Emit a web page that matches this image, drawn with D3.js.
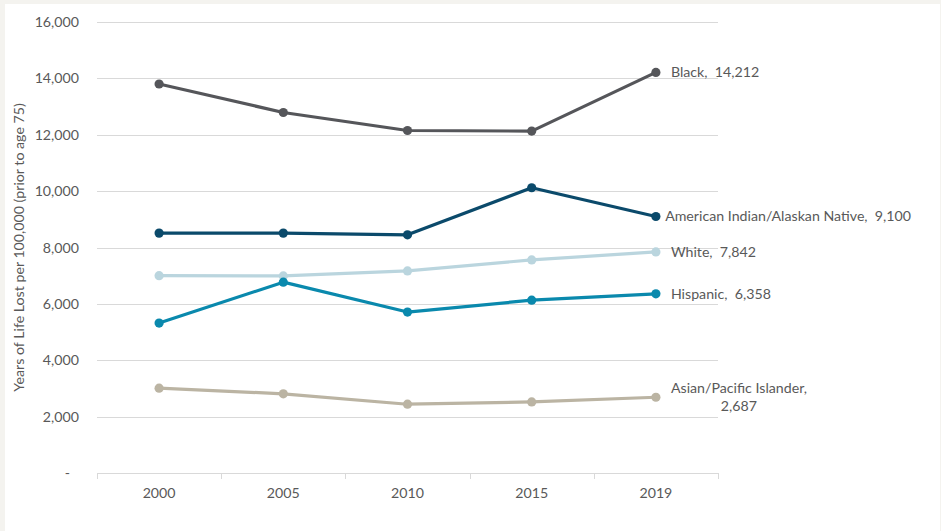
<!DOCTYPE html>
<html>
<head>
<meta charset="utf-8">
<script src="https://cdn.jsdelivr.net/npm/d3@7/dist/d3.min.js"></script>
<style>
  html, body { margin: 0; padding: 0; background: #ffffff; }
  svg { display: block; }
  text { font-family: Lato, "Open Sans", sans-serif; fill: #595959; }
</style>
</head>
<body>
<svg id="chart" width="941" height="531"></svg>
<script>
// Years of life lost before age 75, per 100,000, by race/ethnicity
const years = ["2000", "2005", "2010", "2015", "2019"];
const seriesNames = ["Black", "American Indian/Alaskan Native", "White", "Hispanic", "Asian/Pacific Islander"];
const black    = [13800, 12790, 12150, 12130, 14212];
const aian     = [8510, 8510, 8450, 10120, 9100];
const white    = [7000, 6990, 7170, 7560, 7842];
const hispanic = [5320, 6770, 5710, 6130, 6358];
const asian    = [3010, 2810, 2440, 2520, 2687];
const seriesColors = ["#55565a", "#0b4a6b", "#bad5de", "#0a89ad", "#bbb4a3"];
const yTicks = [0, 2000, 4000, 6000, 8000, 10000, 12000, 14000, 16000];

const series = [black, aian, white, hispanic, asian].map((values, i) => ({
  name: seriesNames[i], values, color: seriesColors[i]
}));

const svg = d3.select("#chart");
const W = 941, H = 531;
const fs = "14.2px";

// frame: light strip along top and left edge
svg.append("rect").attr("x", 0).attr("y", 0).attr("width", W).attr("height", H).attr("fill", "#f4f3ef");
svg.append("rect").attr("x", 5).attr("y", 4).attr("width", W - 6).attr("height", H - 4).attr("fill", "#ffffff");

const plot = { left: 97, right: 718, top: 22, bottom: 473 };

const x = d3.scaleBand().domain(years).range([plot.left, plot.right]);
const y = d3.scaleLinear().domain([0, 16000]).range([plot.bottom, plot.top]);
const cx = d => x(d) + x.bandwidth() / 2;

// horizontal gridlines
svg.append("g").selectAll("line")
  .data(yTicks.filter(t => t > 0))
  .join("line")
  .attr("x1", plot.left).attr("x2", plot.right)
  .attr("y1", d => Math.round(y(d)) + 0.5).attr("y2", d => Math.round(y(d)) + 0.5)
  .attr("stroke", "#d9d9d9").attr("stroke-width", 1);

// y axis labels
const yAxis = d3.axisLeft(y).tickValues(yTicks).tickSize(0).tickPadding(0)
  .tickFormat(d => d === 0 ? "-" : d3.format(",")(d));
svg.append("g")
  .attr("transform", `translate(${plot.left - 18},0)`)
  .call(yAxis)
  .call(g => g.select(".domain").remove())
  .call(g => g.selectAll("text")
    .attr("fill", "#595959").style("font-size", fs)
    .attr("dx", d => d === 0 ? -9 : 0));

// x axis baseline with tick marks at category boundaries
const xg = svg.append("g");
xg.append("line")
  .attr("x1", plot.left).attr("x2", plot.right)
  .attr("y1", plot.bottom + 0.5).attr("y2", plot.bottom + 0.5)
  .attr("stroke", "#d9d9d9");
const bounds = years.map(d => x(d)).concat([plot.right]);
xg.selectAll("line.tick").data(bounds).join("line").attr("class", "tick")
  .attr("x1", d => Math.round(d) + 0.5).attr("x2", d => Math.round(d) + 0.5)
  .attr("y1", plot.bottom).attr("y2", plot.bottom + 6)
  .attr("stroke", "#d9d9d9");
xg.selectAll("text").data(years).join("text")
  .attr("x", d => cx(d)).attr("y", plot.bottom + 25)
  .attr("text-anchor", "middle")
  .style("font-size", fs)
  .text(d => d);

// y axis title
svg.append("text")
  .attr("transform", `translate(24,${(plot.top + plot.bottom) / 2}) rotate(-90)`)
  .attr("text-anchor", "middle")
  .style("font-size", "14.2px")
  .text("Years of Life Lost per 100,000 (prior to age 75)");

// lines and markers
const line = d3.line().x((d, i) => cx(years[i])).y(d => y(d));
const gs = svg.append("g").selectAll("g").data(series).join("g");
gs.append("path")
  .attr("d", d => line(d.values))
  .attr("fill", "none").attr("stroke", d => d.color)
  .attr("stroke-width", 3.2).attr("stroke-linejoin", "round");
gs.selectAll("circle").data(d => d.values.map(v => ({ v, color: d.color })))
  .join("circle")
  .attr("cx", (d, i) => cx(years[i])).attr("cy", d => y(d.v))
  .attr("r", 4.6).attr("fill", d => d.color);

// end labels: "Name,  value"
const labelRight = 911;
const last = years.length - 1;
series.forEach(s => {
  const px = cx(years[last]);
  const py = y(s.values[last]);
  const valText = d3.format(",")(s.values[last]);
  if (s.name === "Asian/Pacific Islander") {
    const t = svg.append("text").attr("text-anchor", "middle").style("font-size", fs);
    t.append("tspan").attr("x", 0).attr("dy", 0).text(s.name + ",");
    t.append("tspan").attr("x", 0).attr("dy", 17.5).text(valText);
    const w = t.node().getBBox().width;
    t.attr("transform", `translate(${px + 15 + w / 2},${py - 4})`);
  } else {
    const t = svg.append("text").attr("y", py + 5).style("font-size", fs)
      .text(s.name + ",\u00a0 " + valText);
    const w = t.node().getComputedTextLength();
    t.attr("x", Math.min(px + 15, labelRight - w));
  }
});
</script>
</body>
</html>
